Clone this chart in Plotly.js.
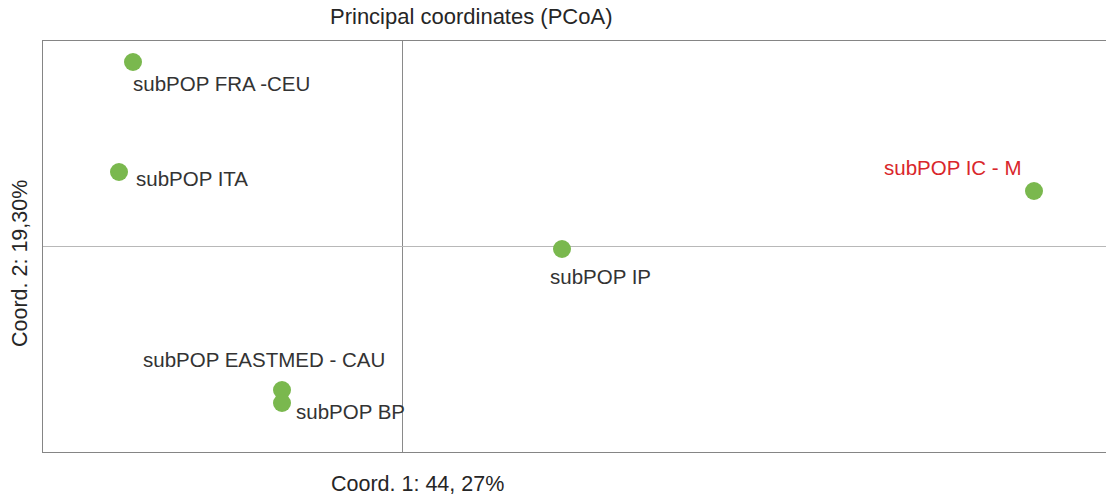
<!DOCTYPE html>
<html>
<head>
<meta charset="utf-8">
<script src="https://cdn.plot.ly/plotly-3.0.1.min.js"></script>
<style>
  html, body { margin: 0; padding: 0; background: #fff; }
  #chart { width: 1106px; height: 496px; }
</style>
</head>
<body>
<div id="chart"></div>
<script>
// PCoA scores
const labels = ['subPOP FRA -CEU', 'subPOP ITA', 'subPOP IC - M', 'subPOP IP', 'subPOP EASTMED - CAU', 'subPOP BP'];
const coord1 = [-0.269, -0.283, 0.632, 0.160, -0.120, -0.120];
const coord2 = [0.184, 0.074, 0.055, -0.003, -0.144, -0.157];
const labelColors = ['#333333', '#333333', '#d9262b', '#333333', '#333333', '#333333'];

// label placement around each point (pixels)
const labelPlace = [
  { anchor: 'left', dx: -2, dy: -21 },
  { anchor: 'left', dx: 15, dy: -6 },
  { anchor: 'right', dx: -11, dy: 24 },
  { anchor: 'center', dx: 38, dy: -27 },
  { anchor: 'center', dx: -18, dy: 31 },
  { anchor: 'left', dx: 12, dy: -8 },
];

const font = 'Liberation Sans, Arial, sans-serif';

const trace = {
  type: 'scatter',
  mode: 'markers',
  x: coord1,
  y: coord2,
  marker: { size: 18, color: '#7ab84e', line: { width: 0 } },
  hoverinfo: 'text',
  text: labels,
  showlegend: false,
};

const pointLabels = labels.map((label, i) => ({
  x: coord1[i],
  y: coord2[i],
  xref: 'x',
  yref: 'y',
  text: label,
  showarrow: false,
  xanchor: labelPlace[i].anchor,
  yanchor: 'middle',
  xshift: labelPlace[i].dx,
  yshift: labelPlace[i].dy,
  font: { family: font, size: 20.5, color: labelColors[i] },
}));

const titles = [
  { text: 'Principal coordinates (PCoA)', x: 0.4026, y: 1, yanchor: 'bottom', yshift: 10, size: 22 },
  { text: 'Coord. 1: 44, 27%', x: 0.352, y: 0, yanchor: 'top', yshift: -18, size: 21.5 },
];

const layout = {
  width: 1106,
  height: 496,
  paper_bgcolor: '#ffffff',
  plot_bgcolor: '#ffffff',
  margin: { l: 43, r: 0, t: 41, b: 44 },
  xaxis: {
    range: [-0.359, 0.704],
    showgrid: false,
    showticklabels: false,
    ticks: '',
    zeroline: true,
    zerolinecolor: '#8a8a8a',
    zerolinewidth: 1,
    showline: true,
    mirror: true,
    linecolor: '#858585',
    linewidth: 1.3,
  },
  yaxis: {
    range: [-0.206, 0.205],
    showgrid: false,
    showticklabels: false,
    ticks: '',
    zeroline: true,
    zerolinecolor: '#b8b8b8',
    zerolinewidth: 1,
    showline: true,
    linecolor: '#858585',
    linewidth: 1.3,
  },
  annotations: [
    ...pointLabels,
    ...titles.map((t) => ({
      text: t.text, xref: 'paper', yref: 'paper', x: t.x, y: t.y,
      xanchor: 'center', yanchor: t.yanchor, yshift: t.yshift, showarrow: false,
      font: { family: font, size: t.size, color: '#262626' },
    })),
    {
      text: 'Coord. 2: 19,30%', xref: 'paper', yref: 'paper', x: 0, y: 0.4574,
      xanchor: 'right', yanchor: 'middle', xshift: -9, textangle: -90, showarrow: false,
      font: { family: font, size: 21.5, color: '#262626' },
    },
  ],
};

Plotly.newPlot('chart', [trace], layout, { displayModeBar: false, staticPlot: true });
</script>
</body>
</html>
